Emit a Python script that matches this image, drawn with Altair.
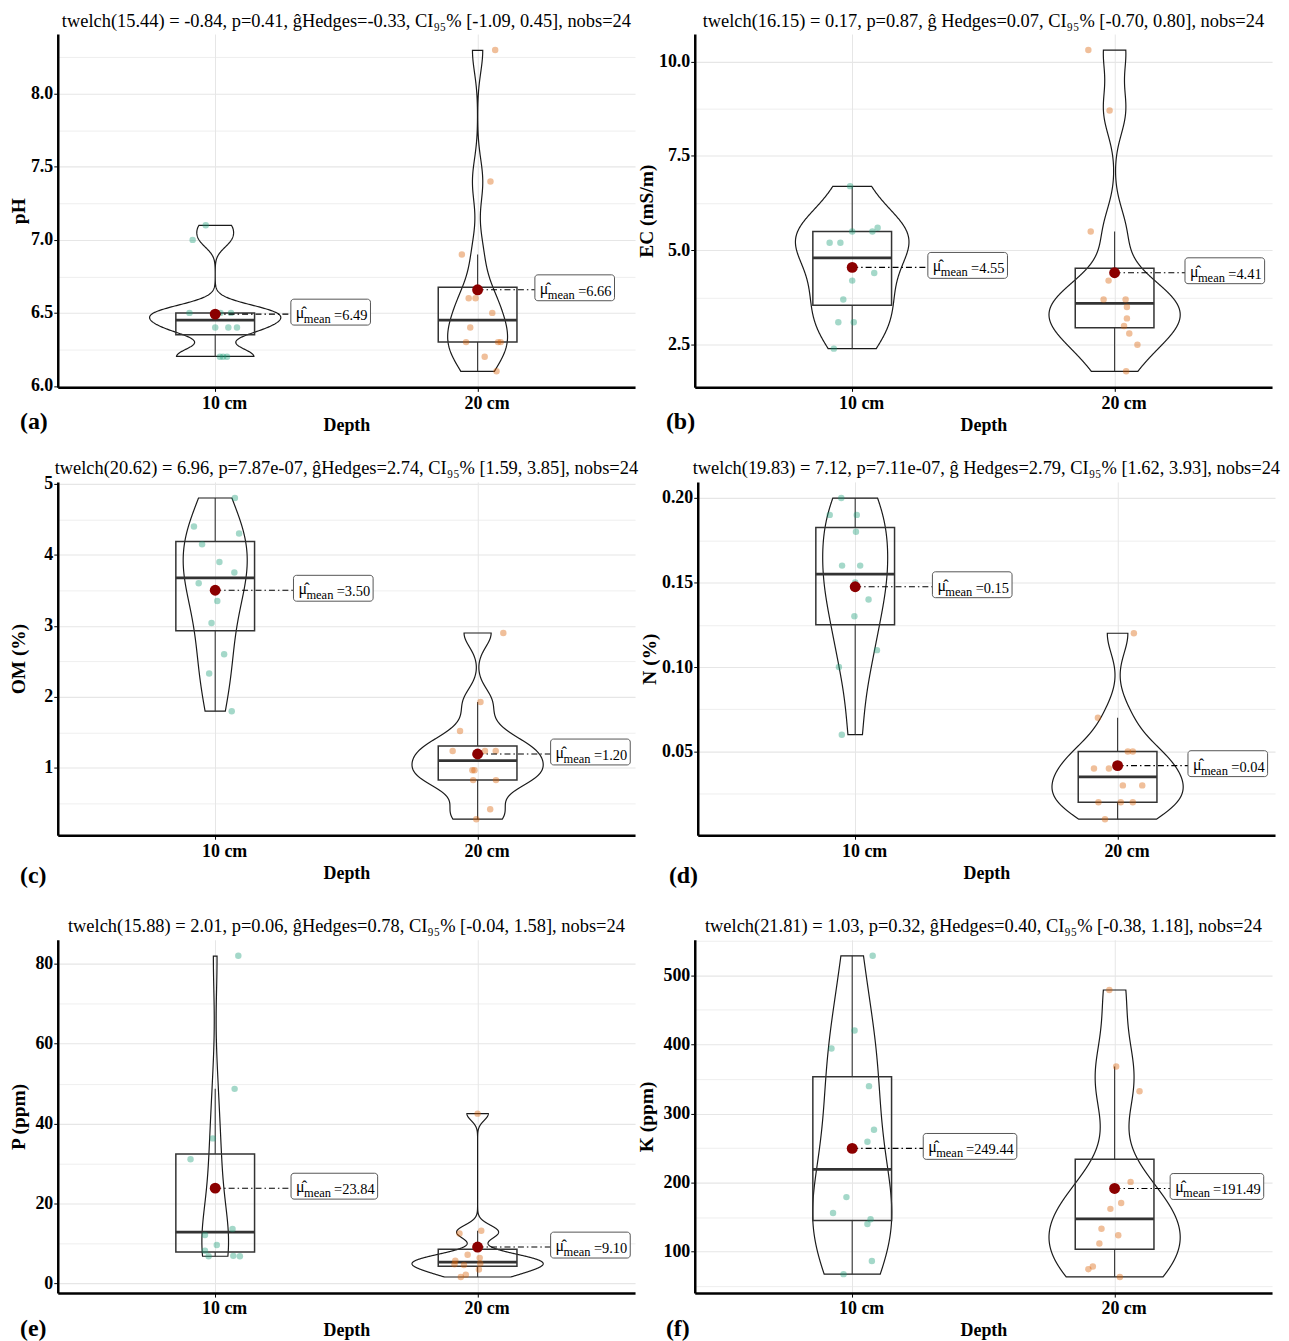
import json
import altair as alt
import pandas as pd

FONT = "Liberation Serif"
W, H = 580, 355
DEPTHS = ["10 cm", "20 cm"]
COLORS = ["#1B9E77", "#D95F02"]

# ---- data (12 samples per depth) ----
PH_10 = [7.1, 7.0, 6.5, 6.5, 6.5, 6.5, 6.4, 6.4, 6.4, 6.2, 6.2, 6.2]
PH_10_JIT = [-0.036, -0.086, -0.098, 0.06, 0.0, 0.02, 0.0, 0.05, 0.083, 0.018, 0.045, 0.03]
PH_20 = [8.3, 7.4, 6.9, 6.6, 6.6, 6.5, 6.4, 6.3, 6.3, 6.3, 6.2, 6.1]
PH_20_JIT = [0.067, 0.049, -0.060, -0.034, -0.008, 0.056, -0.028, -0.044, 0.078, 0.088, 0.027, 0.072]

EC_10 = [6.7, 5.5, 5.5, 5.6, 5.2, 5.2, 4.4, 4.2, 3.7, 3.1, 3.1, 2.4]
EC_10_JIT = [-0.008, 0.0, 0.077, 0.097, -0.086, -0.045, 0.084, 0.0, -0.034, -0.053, 0.006, -0.070]
EC_20 = [10.3, 8.7, 5.5, 4.2, 3.7, 3.7, 3.5, 3.2, 3.0, 2.8, 2.5, 1.8]
EC_20_JIT = [-0.10, -0.019, -0.091, -0.023, -0.042, 0.042, 0.047, 0.047, 0.036, 0.056, 0.087, 0.044]

OM_10 = [4.8, 4.4, 4.3, 4.15, 3.9, 3.75, 3.6, 3.35, 3.04, 2.6, 2.33, 1.8]
OM_10_JIT = [0.075, -0.081, 0.091, -0.05, 0.016, 0.073, -0.063, 0.008, -0.014, 0.034, -0.023, 0.063]
OM_20 = [2.9, 1.93, 1.52, 1.24, 1.24, 1.24, 0.97, 0.97, 0.83, 0.83, 0.42, 0.28]
OM_20_JIT = [0.098, 0.011, -0.067, -0.095, 0.028, 0.069, -0.02, -0.012, -0.017, 0.07, 0.048, -0.005]

N_10 = [0.20, 0.19, 0.19, 0.18, 0.16, 0.16, 0.15, 0.14, 0.13, 0.11, 0.10, 0.06]
N_10_JIT = [-0.053, -0.097, 0.006, 0.003, -0.05, 0.019, 0.0, 0.051, -0.003, 0.083, -0.062, -0.051]
N_20 = [0.12, 0.07, 0.05, 0.05, 0.04, 0.04, 0.03, 0.03, 0.02, 0.02, 0.02, 0.01]
N_20_JIT = [0.062, -0.075, 0.039, 0.058, -0.09, -0.033, 0.02, 0.094, -0.073, 0.012, 0.058, -0.048]

P_10 = [82, 48.7, 36.3, 31.1, 24.0, 13.6, 12.1, 9.6, 8.2, 6.9, 6.8, 6.8]
P_10_JIT = [0.088, 0.074, -0.009, -0.094, 0.0, 0.066, -0.039, 0.006, -0.039, 0.069, -0.025, 0.094]
P_20 = [42.5, 13.2, 12.5, 7.2, 6.4, 5.7, 5.0, 4.8, 4.6, 3.5, 2.2, 1.6]
P_20_JIT = [0.0, 0.014, -0.069, -0.038, 0.008, -0.085, 0.01, -0.088, -0.052, 0.005, -0.045, -0.064]

K_10 = [528, 420, 394, 339.5, 276.5, 259, 179, 156, 147, 140, 86.7, 67.6]
K_10_JIT = [0.078, 0.009, -0.079, 0.064, 0.083, 0.058, -0.022, -0.073, 0.07, 0.058, 0.075, -0.033]
K_20 = [478.6, 368, 332, 201, 170.5, 162, 133.3, 123.8, 111.9, 78.6, 74.8, 63.4]
K_20_JIT = [-0.02, 0.006, 0.095, 0.061, 0.025, -0.016, -0.05, 0.014, -0.058, -0.083, -0.10, 0.02]

TITLES = [
    "twelch(15.44) = -0.84, p=0.41, \u011dHedges=-0.33, CI\u2089\u2085% [-1.09, 0.45], nobs=24",
    "twelch(16.15) = 0.17, p=0.87,  \u011d Hedges=0.07, CI\u2089\u2085% [-0.70, 0.80], nobs=24",
    "twelch(20.62) = 6.96, p=7.87e-07, \u011dHedges=2.74, CI\u2089\u2085% [1.59, 3.85], nobs=24",
    "twelch(19.83) = 7.12, p=7.11e-07, \u011d Hedges=2.79, CI\u2089\u2085% [1.62, 3.93], nobs=24",
    "twelch(15.88) = 2.01, p=0.06, \u011dHedges=0.78, CI\u2089\u2085% [-0.04, 1.58], nobs=24",
    "twelch(21.81) = 1.03, p=0.32, \u011dHedges=0.40, CI\u2089\u2085% [-0.38, 1.18], nobs=24",
]
Y_TITLES = ["pH", "EC (mS/m)", "OM (%)", "N (%)", "P (ppm)", "K (ppm)"]
TAGS = ["(a)", "(b)", "(c)", "(d)", "(e)", "(f)"]

MAJOR = [
    [6.0, 6.5, 7.0, 7.5, 8.0],
    [2.5, 5.0, 7.5, 10.0],
    [1, 2, 3, 4, 5],
    [0.05, 0.10, 0.15, 0.20],
    [0, 20, 40, 60, 80],
    [100, 200, 300, 400, 500],
]
MINOR = [
    [6.25, 6.75, 7.25, 7.75, 8.25],
    [3.75, 6.25, 8.75],
    [0.5, 1.5, 2.5, 3.5, 4.5],
    [0.025, 0.075, 0.125, 0.175],
    [10, 30, 50, 70],
    [50, 150, 250, 350, 450, 550],
]
FORMATS = [".1f", ".1f", "d", ".2f", "d", "d"]

SERIES = [
    (PH_10, PH_10_JIT, PH_20, PH_20_JIT),
    (EC_10, EC_10_JIT, EC_20, EC_20_JIT),
    (OM_10, OM_10_JIT, OM_20, OM_20_JIT),
    (N_10, N_10_JIT, N_20, N_20_JIT),
    (P_10, P_10_JIT, P_20, P_20_JIT),
    (K_10, K_10_JIT, K_20, K_20_JIT),
]

# ---- layout / style constants ----
LABEL_DX = [(0.44, 0.37), (0.44, 0.42), (0.45, 0.43), (0.446, 0.42), (0.454, 0.43), (0.449, 0.39)]
LABEL_W = [(80, 80), (80, 80), (80, 80), (80, 80), (87, 80), (94, 94)]
TAG_POS = [(-38, 35), (-29, 35), (-38, 41), (-29, 41), (-38, 36), (-29, 36)]
Y_MIN_EXTENT = [28, 37, 28, 37, 28, 37]
TITLE_OFFSET = [4, 4, -3, 4, 4, 4]


def make_panel(i):
    v10, j10, v20, j20 = SERIES[i]
    rows = []
    for d, pos, vals, jit in ((DEPTHS[0], 1, v10, j10), (DEPTHS[1], 2, v20, j20)):
        for v, j in zip(vals, jit):
            rows.append({"depth": d, "pos": pos, "value": v, "jit": j})
    df = pd.DataFrame(rows)
    lo, hi = df["value"].min(), df["value"].max()
    rng = hi - lo
    ydom = [float(lo - 0.05 * rng), float(hi + 0.05 * rng)]

    major = MAJOR[i]
    test = f"indexof({json.dumps(major)}, datum.value) >= 0"
    yscale = alt.Scale(domain=ydom, nice=False, zero=False)
    yaxis = alt.Axis(
        values=sorted(major + MINOR[i]),
        labelExpr=f"{test} ? format(datum.value, '{FORMATS[i]}') : ''",
        title=Y_TITLES[i],
        grid=True,
        gridColor="#e6e6e6",
        gridWidth={"condition": {"test": test, "value": 1.1}, "value": 0.7},
        tickColor={"condition": {"test": test, "value": "black"}, "value": "transparent"},
        tickSize=4,
        labelPadding=1,
        titlePadding=1,
        minExtent=Y_MIN_EXTENT[i],
        labelFontSize=18,
        titleFontSize=19.5,
    )
    xscale = alt.Scale(domain=[0.4, 2.6], nice=False, zero=False)
    xaxis = alt.Axis(
        values=[1, 2],
        labelExpr="datum.value == 1 ? '10 cm' : '20 cm'",
        title="Depth",
        grid=True,
        gridColor="#e6e6e6",
        tickColor="black",
        tickSize=4,
        labelOffset=9,
        labelPadding=3,
        titlePadding=4,
        labelFontSize=18,
        titleFontSize=18,
    )

    def X(f):
        return alt.X(f"{f}:Q", scale=xscale, axis=xaxis)

    def Y(f):
        return alt.Y(f"{f}:Q", scale=yscale, axis=yaxis)

    base = alt.Chart(df)

    # violin: per-group Silverman (nrd0) bandwidth via rescaling, trimmed to each group's range,
    # widths scaled by the largest density of the panel (ggplot "area" scaling, width 0.5)
    violin = (
        base.transform_joinaggregate(
            sd="stdev(value)", q1="q1(value)", q3="q3(value)", n="count()",
            vmin="min(value)", vmax="max(value)", groupby=["pos"],
        )
        .transform_calculate(bw="0.9*min(datum.sd, (datum.q3-datum.q1)/1.34)*pow(datum.n, -0.2)")
        .transform_calculate(z="datum.value/datum.bw")
        .transform_density(
            "z", groupby=["pos", "bw", "vmin", "vmax"], bandwidth=1, steps=1500, as_=["z", "dz"]
        )
        .transform_calculate(v="datum.z*datum.bw", d="datum.dz/datum.bw")
        .transform_filter("datum.v >= datum.vmin && datum.v <= datum.vmax")
        .transform_joinaggregate(dmax="max(d)")
        .transform_calculate(
            xl="datum.pos-0.25*datum.d/datum.dmax", xr="datum.pos+0.25*datum.d/datum.dmax"
        )
        .mark_area(orient="horizontal", fillOpacity=0, stroke="#1a1a1a", strokeWidth=1.2, clip=True)
        .encode(y=Y("v"), x=X("xl"), x2="xr", detail="pos:N")
    )

    wh = (
        base.transform_joinaggregate(q1="q1(value)", q3="q3(value)", groupby=["pos"])
        .transform_filter(
            "datum.value >= datum.q1 - 1.5*(datum.q3-datum.q1) && datum.value <= datum.q3 + 1.5*(datum.q3-datum.q1)"
        )
        .transform_aggregate(lo="min(value)", hi="max(value)", groupby=["pos", "q1", "q3"])
    )
    wup = wh.mark_rule(stroke="#333333", strokeWidth=1.1).encode(x=X("pos"), y=Y("q3"), y2="hi")
    wlo = wh.mark_rule(stroke="#333333", strokeWidth=1.1).encode(x=X("pos"), y=Y("lo"), y2="q1")

    box = base.transform_aggregate(
        q1="q1(value)", q3="q3(value)", med="median(value)", groupby=["pos"]
    ).transform_calculate(x0="datum.pos-0.15", x1="datum.pos+0.15")
    rect = box.mark_rect(fillOpacity=0, stroke="#333333", strokeWidth=1.5).encode(
        x=X("x0"), x2="x1", y=Y("q1"), y2="q3"
    )
    med = box.mark_rule(stroke="#333333", strokeWidth=2.8).encode(x=X("x0"), x2="x1", y=Y("med"))

    pts = (
        base.transform_calculate(px="datum.pos + datum.jit")
        .mark_circle(size=42, opacity=0.4)
        .encode(
            x=X("px"),
            y=Y("value"),
            color=alt.Color("depth:N", scale=alt.Scale(domain=DEPTHS, range=COLORS), legend=None),
        )
    )

    dx10, dx20 = LABEL_DX[i]
    mean = base.transform_aggregate(m="mean(value)", groupby=["pos"]).transform_calculate(
        lx=f"datum.pos == 1 ? datum.pos + {dx10} : datum.pos + {dx20}",
        val='"=" + format(datum.m, ".2f")',
    )

    label_layers = []
    for g, pos in enumerate((1, 2)):
        lw = LABEL_W[i][g]
        mg = mean.transform_filter(f"datum.pos == {pos}")
        label_layers.append(
            mg.mark_rule(
                stroke="black", strokeWidth=1.1, strokeDash=[6, 3, 1.5, 3], x2Offset=-lw / 2
            ).encode(x=X("pos"), x2="lx", y=Y("m"))
        )
        label_layers.append(
            mg.mark_rect(
                fill="white", stroke="#555555", strokeWidth=1, cornerRadius=3,
                xOffset=-lw / 2, x2Offset=lw / 2, yOffset=-15, y2Offset=11,
            ).encode(x=X("lx"), x2="lx", y=Y("m"), y2="m")
        )
        label_layers.append(
            mg.mark_text(
                font=FONT, fontSize=16, color="black", align="left", baseline="alphabetic",
                dx=-lw / 2 + 5, dy=4,
            ).encode(x=X("lx"), y=Y("m"), text=alt.value("\u03bc\u0302"))
        )
        label_layers.append(
            mg.mark_text(
                font=FONT, fontSize=12.5, color="black", align="left", baseline="alphabetic",
                dx=-lw / 2 + 13, dy=9,
            ).encode(x=X("lx"), y=Y("m"), text=alt.value("mean"))
        )
        label_layers.append(
            mg.mark_text(
                font=FONT, fontSize=14.5, color="black", align="right", baseline="alphabetic",
                dx=lw / 2 - 3, dy=6,
            ).encode(x=X("lx"), y=Y("m"), text="val:N")
        )

    mdot = mean.mark_circle(size=120, color="#8B0000", opacity=1).encode(x=X("pos"), y=Y("m"))

    tdx, tdy = TAG_POS[i]
    tag = (
        alt.Chart(pd.DataFrame({"t": [TAGS[i]]}))
        .mark_text(font=FONT, fontSize=24, fontWeight="bold", align="left", baseline="middle", color="black")
        .encode(text="t:N", x=alt.value(tdx), y=alt.value(H + tdy))
    )

    return alt.layer(violin, wup, wlo, rect, med, pts, *label_layers, mdot, tag).properties(
        width=W,
        height=H,
        title=alt.TitleParams(
            TITLES[i], font=FONT, fontSize=18.5, fontWeight="normal", color="black",
            offset=TITLE_OFFSET[i], anchor="middle",
        ),
    )


panels = [make_panel(i) for i in range(6)]
top_rows = alt.vconcat(
    alt.hconcat(panels[0], panels[1], spacing=0),
    alt.hconcat(panels[2], panels[3], spacing=0),
    spacing=23,
)
chart = (
    alt.vconcat(
        top_rows,
        alt.hconcat(panels[4], panels[5], spacing=0),
        spacing=28,
    )
    .properties(padding={"left": 0, "top": 0, "right": 0, "bottom": 0})
    .configure_view(stroke="transparent")
    .configure_axis(
        labelFont=FONT,
        titleFont=FONT,
        labelFontWeight="bold",
        titleFontWeight="bold",
        labelColor="black",
        titleColor="black",
        domainColor="black",
        domainWidth=2.5,
    )
)

chart.save("out.html", embed_options={"renderer": "svg", "actions": False})
